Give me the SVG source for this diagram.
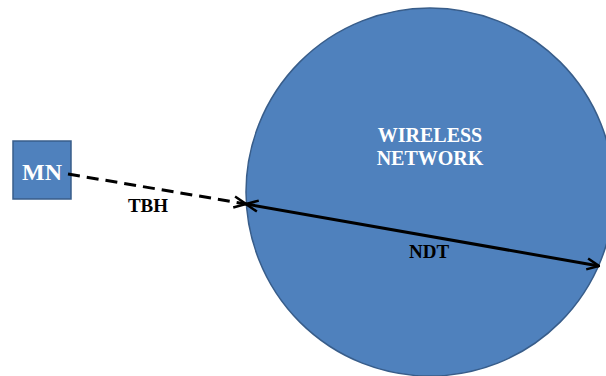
<svg xmlns="http://www.w3.org/2000/svg" width="606" height="376" viewBox="0 0 606 376">
<style>
.shape{fill:#4F81BD;stroke:#385D8A;stroke-width:1.5}
.wt{font-family:"Liberation Serif",serif;font-weight:bold;fill:#FFFFFF;text-anchor:middle}
.bt{font-family:"Liberation Serif",serif;font-weight:bold;fill:#000000;text-anchor:middle;font-size:19px}
.ln{stroke:#000;stroke-width:3;fill:none}
</style>
<defs>
<marker id="arr" viewBox="0 0 14 14" refX="13" refY="7" markerWidth="14" markerHeight="14" markerUnits="userSpaceOnUse" orient="auto-start-reverse">
<path d="M1,1.5 L13,7 L1,12.5" fill="none" stroke="#000" stroke-width="2.5"/>
</marker>
</defs>
<g id="network">
<circle class="shape" cx="430" cy="192" r="184"/>
<text class="wt" x="430" y="142" font-size="20">WIRELESS</text>
<text class="wt" x="430" y="165" font-size="20">NETWORK</text>
</g>
<g id="mn">
<rect class="shape" x="13" y="141" width="58" height="58"/>
<text class="wt" x="42" y="180" font-size="24">MN</text>
</g>
<g id="connectors">
<line class="ln" x1="68" y1="174" x2="246" y2="204" stroke-dasharray="12,7" marker-end="url(#arr)"/>
<line class="ln" x1="246" y1="204" x2="599" y2="266" marker-start="url(#arr)" marker-end="url(#arr)"/>
<text class="bt" x="148" y="212">TBH</text>
<text class="bt" x="429" y="258">NDT</text>
</g>
</svg>
